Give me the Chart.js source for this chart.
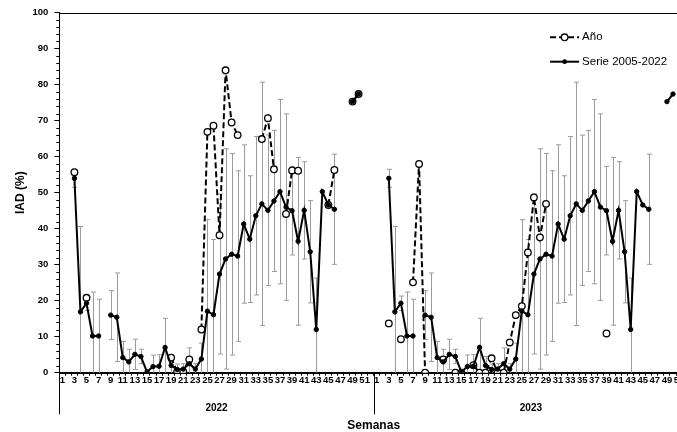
<!DOCTYPE html>
<html><head><meta charset="utf-8">
<script src="https://cdn.jsdelivr.net/npm/chart.js@4.4.1/dist/chart.umd.min.js"></script>
<style>
html,body{margin:0;padding:0;background:#fff;overflow:hidden;}
#wrap{width:677px;height:432px;overflow:hidden;position:relative;background:#fff;}
canvas{display:block;}
</style></head><body>
<div id="wrap"><canvas id="c" width="700" height="432" style="width:700px;height:432px"></canvas></div>
<script>
// ---- data ----
const weekLabels = ['1','2','3','4','5','6','7','8','9','10','11','12','13','14','15','16','17','18','19','20','21','22','23','24','25','26',
  '27','28','29','30','31','32','33','34','35','36','37','38','39','40','41','42','43','44','45','46','47','48','49','50','51','52'];
const years = ['2022','2023'];
// Serie 2005-2022 (mean IAD %) per week 1..52
const serie = [null,null,54.0,16.9,19.3,10.2,10.2,null,16.0,15.4,4.2,3.0,5.1,4.5,0.2,1.7,1.8,7.0,2.0,0.9,1.0,2.5,1.0,3.8,17.1,16.1,
  27.4,31.6,32.9,32.4,41.3,37.1,43.6,46.9,45.1,47.7,50.3,46.0,45.0,36.5,45.1,33.6,12.0,50.3,46.6,45.4,null,null,75.3,77.4,null,null];
// error (± SD) of the series per week
const serieErr = [null,null,2.5,23.7,2.0,12.2,10.2,null,6.8,12.3,4.5,3.5,4.2,2.0,0.5,3.2,3.2,8.1,2.5,1.5,1.5,4.4,1.5,4.4,25.4,20.9,
  22.2,30.6,28.0,23.7,22.0,17.6,22.0,33.8,20.9,19.6,25.6,25.9,12.3,23.3,13.5,14.2,14.3,null,null,15.3,null,null,null,null,null,null];
// Año 2022
const ano2022 = [null,null,55.7,null,20.8,null,null,null,null,null,null,null,null,null,null,null,null,null,4.2,0.3,0.3,3.7,null,12.0,66.9,68.6,
  38.2,84.0,69.5,66.0,null,null,null,64.9,70.7,56.5,null,44.1,56.2,56.1,null,null,null,null,46.6,56.3,null,null,75.3,77.4,null,null];
// Año 2023
const ano2023 = [null,null,13.7,null,9.3,null,25.1,58.0,0,null,null,3.7,null,0,0,null,2.1,0,0,4.0,0,0,8.4,16.0,18.5,33.4,
  48.7,37.6,46.9,null,null,null,null,null,null,null,null,null,10.9,null,null,null,null,null,null,null,null,null,null,null,null,null];
const yTickStep = 10;

// ---- derived ----
const xLabels = weekLabels.concat(weekLabels);
const serieAll = serie.concat(serie);
const errAll = serieErr.concat(serieErr);
const anoAll = ano2022.concat(ano2023);

const FONT = 'Liberation Sans, Arial, sans-serif';

const decor = {
  id: 'decor',
  beforeDatasetsDraw(chart) {
    const {ctx, scales: {x, y}} = chart;
    ctx.save();
    ctx.strokeStyle = '#9b9b9b';
    ctx.lineWidth = 1;
    serieAll.forEach((v, i) => {
      const e = errAll[i];
      if (v == null || e == null) return;
      const px = Math.round(x.getPixelForValue(i)) + 0.5;
      const lo = Math.max(0, v - e), hi = v + e;
      const yLo = y.getPixelForValue(lo), yHi = y.getPixelForValue(hi);
      ctx.beginPath();
      ctx.moveTo(px, yLo); ctx.lineTo(px, yHi);
      ctx.moveTo(px - 2.5, yHi); ctx.lineTo(px + 2.5, yHi);
      if (v - e > 0) { ctx.moveTo(px - 2.5, yLo); ctx.lineTo(px + 2.5, yLo); }
      ctx.stroke();
    });
    ctx.restore();
  },
  afterDraw(chart) {
    const {ctx, chartArea: a, scales: {x, y}} = chart;
    ctx.save();
    ctx.strokeStyle = '#000';
    ctx.lineWidth = 1;
    // frame
    ctx.strokeRect(Math.round(a.left) + 0.5, Math.round(a.top) + 0.5, a.right - a.left, a.bottom - a.top);
    // minor y ticks
    ctx.beginPath();
    for (let v = 0; v <= 100; v += 2) {
      if (v % yTickStep === 0) continue;
      const py = Math.round(y.getPixelForValue(v)) + 0.5;
      ctx.moveTo(a.left - 3, py); ctx.lineTo(a.left, py);
    }
    // year group separators
    const sep = [x.left, (x.getPixelForValue(weekLabels.length - 1) + x.getPixelForValue(weekLabels.length)) / 2];
    sep.forEach(px => {
      const p = Math.round(px) + 0.5;
      ctx.moveTo(p, a.bottom); ctx.lineTo(p, a.bottom + 41.5);
    });
    ctx.stroke();
    // legend
    const lx0 = a.right - 138, lx1 = a.right - 109, ltx = a.right - 106;
    const ly1 = 37.3, ly2 = 61.7;
    ctx.lineWidth = 2;
    ctx.setLineDash([6, 3]);
    ctx.beginPath(); ctx.moveTo(lx0, ly1); ctx.lineTo(lx1, ly1); ctx.stroke();
    ctx.setLineDash([]);
    ctx.beginPath(); ctx.arc((lx0 + lx1) / 2, ly1, 3.3, 0, Math.PI * 2);
    ctx.fillStyle = '#fff'; ctx.fill(); ctx.lineWidth = 1.3; ctx.stroke();
    ctx.lineWidth = 2;
    ctx.beginPath(); ctx.moveTo(lx0, ly2); ctx.lineTo(lx1, ly2); ctx.stroke();
    ctx.beginPath(); ctx.arc((lx0 + lx1) / 2, ly2, 2.4, 0, Math.PI * 2);
    ctx.fillStyle = '#000'; ctx.fill();
    ctx.font = '11.5px ' + FONT;
    ctx.textBaseline = 'middle';
    ctx.textAlign = 'left';
    ctx.fillText(chart.data.datasets[1].label, ltx, ly1);
    ctx.fillText(chart.data.datasets[0].label, ltx, ly2);
    ctx.restore();
  }
};

new Chart(document.getElementById('c'), {
  type: 'line',
  data: {
    labels: xLabels,
    datasets: [
      {
        label: 'Serie 2005-2022',
        data: serieAll,
        xAxisID: 'x',
        borderColor: '#000',
        backgroundColor: '#000',
        borderWidth: 2,
        pointRadius: 2.2,
        pointBorderWidth: 1,
        pointBorderColor: '#000',
        pointBackgroundColor: '#000',
        spanGaps: false,
        tension: 0
      },
      {
        label: 'Año',
        data: anoAll,
        xAxisID: 'x',
        borderColor: '#000',
        backgroundColor: '#fff',
        borderWidth: 2,
        borderDash: [6, 3],
        pointRadius: 3.3,
        pointBorderWidth: 1.3,
        pointBorderColor: '#000',
        pointBackgroundColor: '#fff',
        spanGaps: false,
        tension: 0
      }
    ]
  },
  options: {
    responsive: false,
    animation: false,
    devicePixelRatio: 1,
    layout: {padding: {left: 0, right: 11.9, top: 12.7, bottom: 0}},
    plugins: {legend: {display: false}, tooltip: {enabled: false}},
    scales: {
      x: {
        type: 'category',
        offset: true,
        grid: {offset: true, drawOnChartArea: false, tickLength: 3, color: '#000', lineWidth: 1},
        border: {color: '#000', width: 1},
        ticks: {
          autoSkip: false, maxRotation: 0, minRotation: 0, padding: 0, color: '#000',
          font: {family: FONT, weight: 'bold', size: 9.5, lineHeight: 1},
          callback(v) { const l = this.getLabelForValue(v); return (+l) % 2 === 1 ? l : ''; }
        },
        afterFit(s) { s.height = 25; }
      },
      x2: {
        type: 'category',
        labels: years,
        offset: true,
        position: 'bottom',
        grid: {display: false, drawTicks: false},
        border: {display: false},
        ticks: {padding: 4.3, color: '#000', font: {family: FONT, weight: 'bold', size: 10}},
        title: {display: true, text: 'Semanas', color: '#000', padding: 0,
                font: {family: FONT, weight: 'bold', size: 12, lineHeight: 1}},
        afterFit(s) { s.height = 34.3; }
      },
      y: {
        min: 0, max: 100,
        ticks: {stepSize: yTickStep, padding: 6, color: '#000', font: {family: FONT, weight: 'bold', size: 9.5}},
        grid: {drawOnChartArea: false, tickLength: 5, color: '#000'},
        border: {color: '#000', width: 1},
        title: {display: true, text: 'IAD (%)', color: '#000', padding: {top: 13.5, bottom: 0},
                font: {family: FONT, weight: 'bold', size: 12}},
        afterFit(s) { s.width = 59.3; }
      }
    }
  },
  plugins: [decor]
});
</script>
</body></html>
